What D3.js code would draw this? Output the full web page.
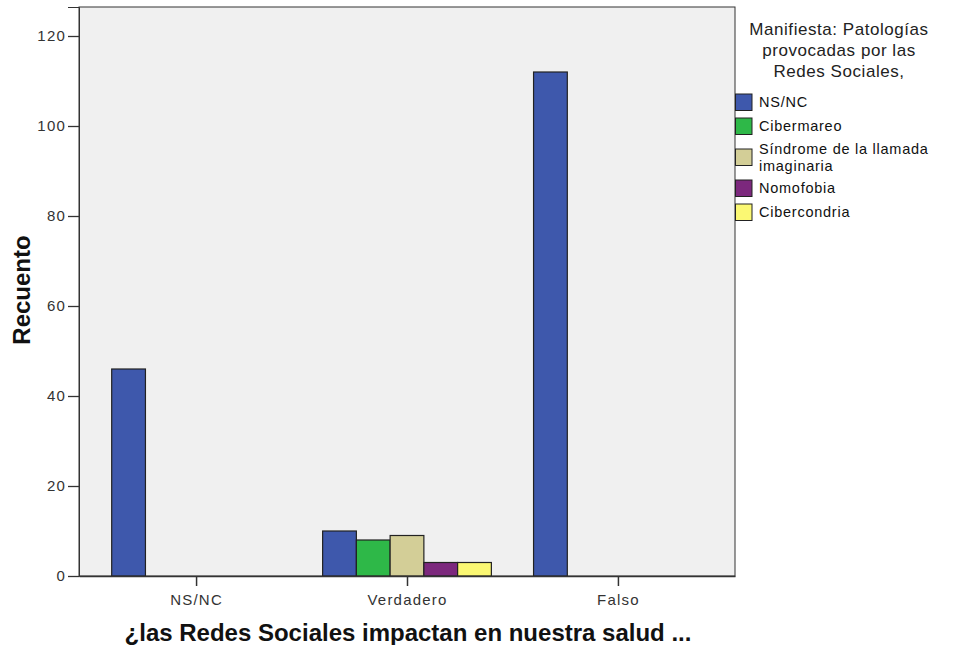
<!DOCTYPE html>
<html><head><meta charset="utf-8">
<script src="https://cdn.jsdelivr.net/npm/d3@7"></script>
<style>body{margin:0;background:#fff}svg{display:block}</style>
</head><body><svg id="c" width="956" height="645"></svg>
<script>
const categories = ["NS/NC", "Verdadero", "Falso"];
const seriesNames = ["NS/NC", "Cibermareo", "Síndrome de la llamada imaginaria", "Nomofobia", "Cibercondria"];
const legendLabels = [["NS/NC"], ["Cibermareo"], ["Síndrome de la llamada", "imaginaria"], ["Nomofobia"], ["Cibercondria"]];
const seriesColors = ["#3E58AC", "#2EB848", "#D3CE97", "#7C287D", "#FBF873"];
const values = [
  [46, 0, 0, 0, 0],
  [10, 8, 9, 3, 3],
  [112, 0, 0, 0, 0]
];
const yTicks = [0, 20, 40, 60, 80, 100, 120];
const legendTitle = ["Manifiesta: Patologías", "provocadas por las", "Redes Sociales,"];
const xTitle = "¿las Redes Sociales impactan en nuestra salud ...";
const yTitle = "Recuento";

const svg = d3.select("#c");
const L = 79, R = 735, T = 7, B = 576;
const font = "'Liberation Sans', Arial, sans-serif";

const y = d3.scaleLinear().domain([0, (B - T) / 4.5]).range([B, T]);
const x = d3.scalePoint().domain(categories).range([L, R]).padding(0.555);
const step = x.step();
const bw = step * 0.16;
const x1 = d3.scaleBand().domain(seriesNames).range([-bw * 2.5, bw * 2.5]).padding(0);

svg.append("rect").attr("x", L).attr("y", T).attr("width", R - L).attr("height", B - T)
  .attr("fill", "#F0F0F0").attr("stroke", "#333").attr("stroke-width", 1);

const g = svg.append("g");
categories.forEach((c, i) => {
  values[i].forEach((v, j) => {
    if (v <= 0) return;
    g.append("rect")
      .attr("x", x(c) + x1(seriesNames[j]))
      .attr("y", y(v))
      .attr("width", x1.bandwidth())
      .attr("height", y(0) - y(v))
      .attr("fill", seriesColors[j])
      .attr("stroke", "#222").attr("stroke-width", 1.2);
  });
});

// y axis
const ya = svg.append("g").attr("transform", `translate(${L},0)`)
  .call(d3.axisLeft(y).tickValues(yTicks).tickSize(11).tickPadding(2));
ya.select(".domain").attr("stroke", "#333");
ya.selectAll(".tick line").attr("stroke", "#333").attr("stroke-width", 1.3);
ya.selectAll("text").attr("font-family", font).attr("font-size", 15)
  .attr("letter-spacing", "1.2px").attr("fill", "#333");

// x axis
const xa = svg.append("g").attr("transform", `translate(0,${B})`)
  .call(d3.axisBottom(x).tickSize(10).tickPadding(8).tickSizeOuter(0));
xa.select(".domain").attr("stroke", "#333").attr("stroke-width", 1.5);
xa.selectAll(".tick line").attr("stroke", "#333").attr("stroke-width", 1.5);
xa.selectAll("text").attr("font-family", font).attr("font-size", 15)
  .attr("letter-spacing", "1.2px").attr("fill", "#333");

svg.append("text").attr("x", 408).attr("y", 641).attr("text-anchor", "middle")
  .attr("font-family", font).attr("font-size", 24).attr("font-weight", "bold").attr("fill", "#111")
  .text(xTitle);
svg.append("text").attr("transform", "translate(30,290) rotate(-90)").attr("text-anchor", "middle")
  .attr("font-family", font).attr("font-size", 24).attr("font-weight", "bold").attr("fill", "#111")
  .text(yTitle);

// legend
legendTitle.forEach((t, i) => {
  svg.append("text").attr("x", 839).attr("y", 35 + i * 21).attr("text-anchor", "middle")
    .attr("font-family", font).attr("font-size", 17).attr("letter-spacing", "0.55px")
    .attr("fill", "#222").text(t);
});
const sw = [94, 118, 149, 180, 204];
seriesNames.forEach((s, j) => {
  svg.append("rect").attr("x", 735.5).attr("y", sw[j]).attr("width", 16.5).attr("height", 16.5)
    .attr("fill", seriesColors[j]).attr("stroke", "#222").attr("stroke-width", 1);
  const lines = legendLabels[j];
  lines.forEach((ln, k) => {
    const cy = sw[j] + 8.25 + (k - (lines.length - 1) / 2) * 16.5;
    svg.append("text").attr("x", 759).attr("y", cy).attr("dy", "0.35em")
      .attr("font-family", font).attr("font-size", 14.5).attr("letter-spacing", "0.75px")
      .attr("fill", "#111").text(ln);
  });
});
</script></body></html>
